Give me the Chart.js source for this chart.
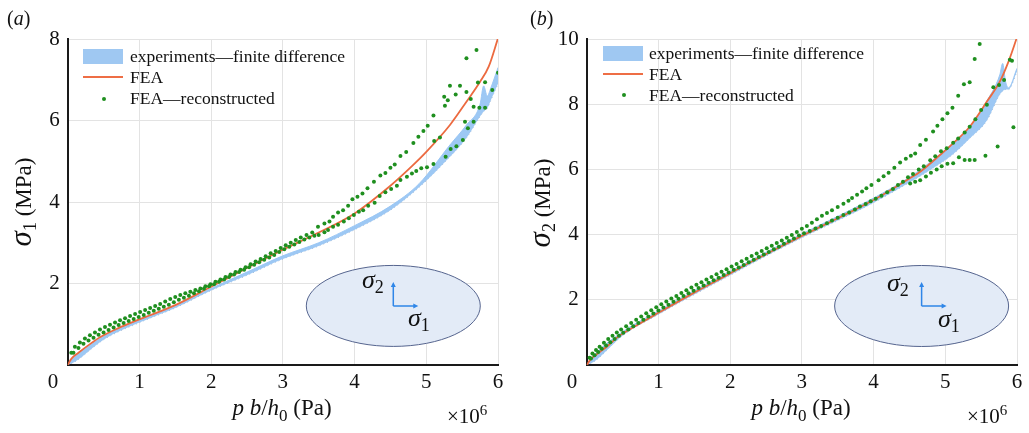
<!DOCTYPE html>
<html>
<head>
<meta charset="utf-8">
<script src="https://cdn.jsdelivr.net/npm/chart.js@4.4.1/dist/chart.umd.min.js"></script>
<style>
body { margin: 0; background: #fff; font-family: 'Liberation Serif', 'DejaVu Serif', serif; color: #111; }
#wrap { position: relative; width: 1029px; height: 433px; overflow: hidden; }
canvas { position: absolute; top: 0; }
.lbl { position: absolute; white-space: nowrap; line-height: 1; }
.c { transform: translate(-50%, -50%); }
.rot { transform: translate(-50%, -50%) rotate(-90deg); }
.ytitle { font-size: 23px; }
.ytitle .sig { font-style: italic; font-size: 31px; }
.ytitle sub { font-size: 18px; vertical-align: -0.25em; }
.xtitle { font-size: 23px; }
.xtitle sub { font-size: 17px; vertical-align: -0.35em; }
.mult { font-size: 21px; }
.mult sup { font-size: 15px; vertical-align: 0.5em; }
.tick0 { font-size: 21px; }
.plab { font-size: 20px; }
.leg { position: absolute; font-size: 17.5px; line-height: 1; white-space: nowrap; }
.sw { position: absolute; width: 40px; height: 15px; background: #9fc8f2; }
.ln { position: absolute; width: 40px; height: 2px; background: #ee6e45; }
.dt { position: absolute; width: 4px; height: 4px; border-radius: 50%; background: #1f8f1f; }
.sg { position: absolute; font-size: 26px; font-style: italic; line-height: 1; white-space: nowrap; }
.sg sub { font-style: normal; font-size: 18px; vertical-align: -0.3em; }
</style>
</head>
<body>
<div id="wrap">
  <canvas id="chartA" width="514" height="433" style="left:0px"></canvas>
  <canvas id="chartB" width="515" height="433" style="left:514px"></canvas>

  <!-- panel (a) text -->
  <div class="lbl plab" style="left:7px; top:8px;">(<i>a</i>)</div>
  <div class="lbl ytitle rot" style="left:22px; top:202px;"><span class="sig">σ</span><sub>1</sub> (MPa)</div>
  <div class="lbl xtitle c" style="left:282px; top:410px;"><i>p b</i>/<i>h</i><sub>0</sub> (Pa)</div>
  <div class="lbl mult" style="left:447px; top:403px;">×10<sup>6</sup></div>
  <div class="lbl tick0 c" style="left:53px; top:381px;">0</div>
  <div class="sw" style="left:83px; top:49px;"></div>
  <div class="leg" style="left:130px; top:48px;">experiments—finite difference</div>
  <div class="ln" style="left:83px; top:76px;"></div>
  <div class="leg" style="left:130px; top:69px;">FEA</div>
  <div class="dt" style="left:102px; top:97px;"></div>
  <div class="leg" style="left:130px; top:90px;">FEA—reconstructed</div>
  <div class="sg" style="left:362px; top:267px;">σ<sub>2</sub></div>
  <div class="sg" style="left:408px; top:305px;">σ<sub>1</sub></div>

  <!-- panel (b) text -->
  <div class="lbl plab" style="left:530px; top:8px;">(<i>b</i>)</div>
  <div class="lbl ytitle rot" style="left:541px; top:203px;"><span class="sig">σ</span><sub>2</sub> (MPa)</div>
  <div class="lbl xtitle c" style="left:801px; top:410px;"><i>p b</i>/<i>h</i><sub>0</sub> (Pa)</div>
  <div class="lbl mult" style="left:967px; top:403px;">×10<sup>6</sup></div>
  <div class="lbl tick0 c" style="left:572px; top:381px;">0</div>
  <div class="sw" style="left:603px; top:46px;"></div>
  <div class="leg" style="left:649px; top:45px;">experiments—finite difference</div>
  <div class="ln" style="left:603px; top:73px;"></div>
  <div class="leg" style="left:649px; top:66px;">FEA</div>
  <div class="dt" style="left:622px; top:93px;"></div>
  <div class="leg" style="left:649px; top:87px;">FEA—reconstructed</div>
  <div class="sg" style="left:887px; top:270px;">σ<sub>2</sub></div>
  <div class="sg" style="left:938px; top:306px;">σ<sub>1</sub></div>
</div>

<script>
// Axis ticks
const xTickLabels = ['0', '1', '2', '3', '4', '5', '6'];
const yTicksA = [0, 2, 4, 6, 8];
const yTicksB = [0, 2, 4, 6, 8, 10];

// ---------- panel (a): sigma_1 ----------
const feaA = [[0,0],[0.05,0.15],[0.15,0.3],[0.3,0.5],[0.45,0.68],[0.7,0.9],[1,1.12],[1.5,1.47],[2,1.92],[2.5,2.38],
  [3,2.83],[3.5,3.25],[4,3.72],[4.5,4.4],[4.8,4.88],[5,5.23],[5.33,5.89],[5.56,6.46],[5.75,6.95],[5.87,7.32],[6,8.02]];

const bandXA  = [0, 0.1, 0.5, 1, 1.5, 2, 2.5, 3, 3.5, 4, 4.5, 4.9, 5.33, 5.56, 5.75, 5.8, 5.85, 5.9, 6];
const bandHiA = [0, 0.2, 0.7, 1.1, 1.45, 1.88, 2.28, 2.68, 3.0, 3.42, 3.9, 4.45, 5.4, 5.89, 6.4, 6.85, 6.6, 6.8, 7.3];
const bandLoA = [0, 0.08, 0.62, 1.04, 1.4, 1.83, 2.2, 2.6, 2.92, 3.32, 3.8, 4.36, 5.11, 5.57, 6.1, 6.22, 6.3, 6.5, 6.9];

const reconA = [
  // upper track, low range
  [0.05,0.3],[0.1,0.45],[0.17,0.55],[0.24,0.65],[0.31,0.73],[0.38,0.8],[0.45,0.87],[0.52,0.93],[0.59,0.99],[0.66,1.04],
  [0.73,1.1],[0.8,1.15],[0.87,1.2],[0.94,1.25],[1.01,1.3],[1.08,1.35],[1.15,1.4],[1.22,1.45],[1.29,1.5],[1.36,1.56],
  [1.43,1.62],[1.5,1.67],[1.57,1.72],[1.64,1.76],[1.71,1.8],[1.78,1.84],[1.85,1.88],[1.92,1.93],[1.99,1.98],[2.06,2.04],
  [2.13,2.1],[2.2,2.16],[2.27,2.22],[2.34,2.28],[2.41,2.34],[2.48,2.4],[2.55,2.47],[2.62,2.54],[2.69,2.6],[2.76,2.67],
  [2.83,2.74],[2.9,2.8],[2.97,2.87],[3.04,2.94],[3.11,3.0],[3.18,3.07],[3.25,3.13],
  // lower track, low range
  [0.08,0.3],[0.15,0.42],[0.22,0.52],[0.29,0.6],[0.36,0.67],[0.43,0.74],[0.5,0.8],[0.57,0.86],[0.64,0.92],[0.71,0.98],
  [0.78,1.03],[0.85,1.08],[0.92,1.13],[0.99,1.18],[1.06,1.23],[1.13,1.28],[1.2,1.33],[1.27,1.38],[1.34,1.43],[1.41,1.48],
  [1.48,1.54],[1.55,1.6],[1.62,1.65],[1.69,1.7],[1.76,1.76],[1.83,1.81],[1.9,1.87],[1.97,1.93],[2.04,1.98],[2.11,2.04],
  [2.18,2.1],[2.25,2.16],[2.32,2.22],[2.39,2.28],[2.46,2.34],[2.53,2.4],[2.6,2.46],[2.67,2.52],[2.74,2.58],[2.81,2.64],
  [2.88,2.7],[2.95,2.77],[3.02,2.84],[3.09,2.9],[3.16,2.96],[3.23,3.02],[3.3,3.08],[3.37,3.13],[3.44,3.17],
  // upper branch
  [3.33,3.19],[3.41,3.25],[3.49,3.39],[3.58,3.47],[3.65,3.52],[3.70,3.64],[3.77,3.74],[3.84,3.80],[3.91,3.91],[3.97,4.07],
  [4.04,4.13],[4.11,4.21],[4.18,4.34],[4.27,4.5],[4.36,4.65],[4.43,4.71],[4.50,4.84],[4.56,4.92],[4.64,5.13],[4.72,5.23],
  [4.82,5.45],[4.89,5.6],[4.96,5.74],[5.02,5.87],[5.10,6.12],[5.26,6.36],[5.30,6.5],[5.25,6.58],[5.41,6.64],[5.33,6.85],
  [5.47,6.85],[5.56,6.7],[5.56,7.53],[5.70,7.73],
  // lower branch
  [3.50,3.19],[3.58,3.26],[3.63,3.31],[3.70,3.39],[3.77,3.44],[3.85,3.52],[3.92,3.60],[3.99,3.68],[4.06,3.76],[4.12,3.80],
  [4.19,3.91],[4.28,3.98],[4.35,4.15],[4.43,4.24],[4.51,4.32],[4.59,4.40],[4.64,4.54],[4.73,4.62],[4.80,4.70],[4.86,4.76],
  [4.93,4.83],[5.01,4.85],[5.10,4.93],[5.11,5.5],[5.19,5.58],[5.27,5.11],[5.34,5.30],[5.42,5.37],[5.51,5.52],[5.54,5.97],
  [5.58,5.81],[5.66,5.97],[5.62,6.53],[5.66,6.34],[5.72,6.93],[5.74,6.31],[5.82,6.31],[5.82,6.94],[5.92,6.75],[6.0,7.17]
];

// ---------- panel (b): sigma_2 ----------
const feaB = [[0,0],[0.05,0.16],[0.16,0.36],[0.3,0.6],[0.44,0.87],[0.7,1.22],[1,1.6],[1.5,2.22],[2,2.81],[2.21,3.07],
  [2.5,3.4],[3,3.96],[3.5,4.5],[4,5.06],[4.5,5.72],[4.65,5.93],[4.93,6.45],[5.11,6.8],[5.34,7.31],[5.58,8.08],
  [5.76,8.69],[5.88,9.3],[6,10.05]];

const bandXB  = [0, 0.1, 0.5, 1, 1.5, 2, 2.5, 3, 3.5, 4, 4.5, 4.8, 5.1, 5.34, 5.58, 5.76, 5.8, 5.84, 5.88, 6];
const bandHiB = [0, 0.3, 1.02, 1.66, 2.28, 2.87, 3.46, 4.02, 4.56, 5.12, 5.76, 6.24, 6.8, 7.3, 8.1, 8.9, 9.25, 8.7, 8.5, 9.1];
const bandLoB = [0, 0.1, 0.9, 1.55, 2.16, 2.75, 3.34, 3.9, 4.43, 4.98, 5.6, 6.0, 6.45, 6.95, 7.5, 8.3, 8.4, 8.45, 8.45, 9.0];

const reconB = [
  // upper track, low range
  [0.04,0.22],[0.08,0.35],[0.13,0.46],[0.18,0.56],[0.24,0.68],[0.3,0.8],[0.36,0.9],[0.42,1.0],[0.48,1.09],[0.55,1.19],
  [0.62,1.29],[0.69,1.39],[0.76,1.49],[0.83,1.59],[0.9,1.68],[0.97,1.77],[1.04,1.86],[1.11,1.95],[1.18,2.04],[1.25,2.12],
  [1.32,2.21],[1.39,2.29],[1.46,2.38],[1.53,2.46],[1.6,2.54],[1.67,2.62],[1.74,2.7],[1.81,2.78],[1.88,2.86],[1.95,2.94],
  [2.02,3.02],[2.09,3.1],[2.16,3.18],[2.23,3.26],[2.3,3.34],[2.37,3.42],[2.44,3.5],[2.51,3.58],[2.58,3.66],[2.65,3.74],
  [2.72,3.82],[2.79,3.9],[2.86,3.99],[2.93,4.08],
  // lower track, low range
  [0.06,0.2],[0.11,0.3],[0.16,0.4],[0.21,0.5],[0.27,0.6],[0.33,0.7],[0.39,0.8],[0.45,0.9],[0.51,0.99],[0.58,1.09],
  [0.65,1.19],[0.72,1.29],[0.79,1.39],[0.86,1.49],[0.93,1.58],[1.0,1.67],[1.07,1.76],[1.14,1.85],[1.21,1.94],[1.28,2.03],
  [1.35,2.12],[1.42,2.2],[1.49,2.28],[1.56,2.36],[1.63,2.44],[1.7,2.52],[1.77,2.6],[1.84,2.68],[1.91,2.76],[1.98,2.84],
  [2.05,2.92],[2.12,2.99],[2.19,3.07],[2.26,3.15],[2.33,3.23],[2.4,3.31],[2.47,3.39],[2.54,3.47],[2.61,3.55],[2.68,3.63],
  [2.75,3.72],[2.82,3.8],[2.89,3.88],[2.96,3.97],
  // upper branch
  [3.0,4.18],[3.07,4.26],[3.14,4.36],[3.21,4.47],[3.28,4.58],[3.35,4.66],[3.42,4.75],[3.50,4.85],[3.58,4.95],[3.65,5.04],
  [3.70,5.12],[3.77,5.22],[3.84,5.32],[3.90,5.42],[3.97,5.52],[4.07,5.67],[4.14,5.79],[4.21,5.90],[4.29,6.05],[4.37,6.21],
  [4.45,6.33],[4.52,6.42],[4.58,6.49],[4.65,6.75],[4.73,6.91],[4.83,7.16],[4.89,7.34],[4.96,7.54],[5.03,7.72],[5.10,7.89],
  [5.18,8.26],[5.26,8.61],[5.34,8.67],[5.41,9.39],[5.48,9.85],
  // lower branch
  [3.03,4.04],[3.11,4.11],[3.19,4.19],[3.27,4.26],[3.35,4.35],[3.42,4.43],[3.50,4.52],[3.58,4.60],[3.66,4.68],[3.74,4.77],
  [3.81,4.86],[3.89,4.94],[3.96,5.02],[4.03,5.10],[4.11,5.19],[4.19,5.30],[4.27,5.40],[4.34,5.52],[4.41,5.62],[4.48,5.76],
  [4.55,5.86],[4.63,6.0],[4.70,6.1],[4.79,6.28],[4.86,6.4],[4.94,6.56],[5.02,6.65],[5.11,6.82],[5.18,6.95],[5.27,7.13],
  [5.34,7.31],[5.42,7.54],[5.50,7.82],[5.58,7.98],[5.67,8.52],[5.75,8.59],[5.82,8.74],[5.90,9.36],[5.93,9.33],
  // points under the band
  [4.51,5.57],[4.58,5.62],[4.65,5.67],[4.73,5.78],[4.80,5.9],[4.88,6.0],[4.95,6.1],
  // scattered points at the right
  [5.03,6.17],[5.11,6.19],[5.19,6.37],[5.27,6.29],[5.34,6.29],[5.41,6.29],[5.56,6.42],[5.73,6.70],[5.95,7.29]
];

// Colors
const colBand = 'rgba(152, 197, 243, 0.95)';
const colFea = '#ec6a40';
const colRecon = '#1f8f1f';

const toXY = (xs, ys) => xs.map((x, i) => ({ x: x, y: ys[i] }));
const pairs = (arr) => arr.map(p => ({ x: p[0], y: p[1] }));

// Inset ellipse with the sigma_1 / sigma_2 directions
const insetPlugin = {
    id: 'inset',
    afterDatasetsDraw(chart, args, opts) {
        const ctx = chart.ctx;
        const cx = chart.scales.x.getPixelForValue(opts.x);
        const cy = chart.scales.y.getPixelForValue(opts.y);
        ctx.save();
        ctx.beginPath();
        ctx.ellipse(cx, cy, opts.rx, opts.ry, 0, 0, Math.PI * 2);
        ctx.fillStyle = '#e3ebf7';
        ctx.fill();
        ctx.lineWidth = 1;
        ctx.strokeStyle = '#55648e';
        ctx.stroke();
        // arrows
        ctx.strokeStyle = '#2f86e8';
        ctx.fillStyle = '#2f86e8';
        ctx.lineWidth = 1.5;
        ctx.beginPath();
        ctx.moveTo(cx, cy);
        ctx.lineTo(cx, cy - 21);
        ctx.moveTo(cx, cy);
        ctx.lineTo(cx + 22, cy);
        ctx.stroke();
        ctx.beginPath();
        ctx.moveTo(cx, cy - 24); ctx.lineTo(cx - 2.5, cy - 19); ctx.lineTo(cx + 2.5, cy - 19); ctx.closePath();
        ctx.moveTo(cx + 25, cy); ctx.lineTo(cx + 20, cy - 2.5); ctx.lineTo(cx + 20, cy + 2.5); ctx.closePath();
        ctx.fill();
        ctx.restore();
    }
};

function makeChart(id, cfg) {
    const ctx = document.getElementById(id).getContext('2d');
    return new Chart(ctx, {
        type: 'scatter',
        data: {
            datasets: [
                {
                    label: 'FEA—reconstructed',
                    data: pairs(cfg.recon),
                    pointRadius: 2,
                    pointBackgroundColor: colRecon,
                    pointBorderWidth: 0,
                    order: 0
                },
                {
                    label: 'FEA',
                    data: pairs(cfg.fea),
                    showLine: true,
                    borderColor: colFea,
                    borderWidth: 1.8,
                    pointRadius: 0,
                    cubicInterpolationMode: 'monotone',
                    order: 1
                },
                {
                    label: 'experiments—finite difference',
                    data: toXY(cfg.bandX, cfg.bandHi),
                    showLine: true,
                    borderColor: colBand,
                    borderWidth: 1,
                    backgroundColor: colBand,
                    fill: '+1',
                    pointRadius: 0,
                    cubicInterpolationMode: 'monotone',
                    order: 2
                },
                {
                    label: 'band low',
                    data: toXY(cfg.bandX, cfg.bandLo),
                    showLine: true,
                    borderColor: 'rgba(140, 160, 190, 0.8)',
                    borderWidth: 1,
                    borderDash: [1, 3],
                    pointRadius: 0,
                    fill: false,
                    cubicInterpolationMode: 'monotone',
                    order: 3
                }
            ]
        },
        options: {
            responsive: false,
            animation: false,
            devicePixelRatio: 1,
            layout: { padding: { top: 39, right: cfg.padRight, left: 0, bottom: 0 } },
            plugins: {
                legend: { display: false },
                tooltip: { enabled: false },
                inset: cfg.inset
            },
            scales: {
                x: {
                    type: 'linear',
                    min: 0, max: 6,
                    afterFit: (s) => { s.height = 68; },
                    grid: { color: '#e3e3e3', lineWidth: 1, drawTicks: false },
                    border: { display: true, color: '#1a1a1a', width: 2 },
                    ticks: {
                        stepSize: 1,
                        padding: 5,
                        color: '#111',
                        font: { family: 'Liberation Serif', size: 21 },
                        callback: (v) => v === 0 ? '' : xTickLabels[v]
                    }
                },
                y: {
                    type: 'linear',
                    min: 0, max: cfg.yMax,
                    afterFit: (s) => { s.width = cfg.yWidth; },
                    afterBuildTicks: (s) => { s.ticks = cfg.yTicks.map(v => ({ value: v })); },
                    grid: { color: '#e3e3e3', lineWidth: 1, drawTicks: false },
                    border: { display: true, color: '#1a1a1a', width: 2 },
                    ticks: {
                        padding: 8,
                        color: '#111',
                        font: { family: 'Liberation Serif', size: 21 },
                        callback: (v) => v === 0 ? '' : String(v)
                    }
                }
            }
        },
        plugins: [insetPlugin]
    });
}

makeChart('chartA', {
    recon: reconA, fea: feaA, bandX: bandXA, bandHi: bandHiA, bandLo: bandLoA,
    yMax: 8, yTicks: yTicksA, yWidth: 67.7, padRight: 16,
    inset: { x: 4.54, y: 1.45, rx: 87, ry: 40.5 }
});

makeChart('chartB', {
    recon: reconB, fea: feaB, bandX: bandXB, bandHi: bandHiB, bandLo: bandLoB,
    yMax: 10, yTicks: yTicksB, yWidth: 72.7, padRight: 12,
    inset: { x: 4.67, y: 1.81, rx: 87, ry: 40.5 }
});
</script>
</body>
</html>
